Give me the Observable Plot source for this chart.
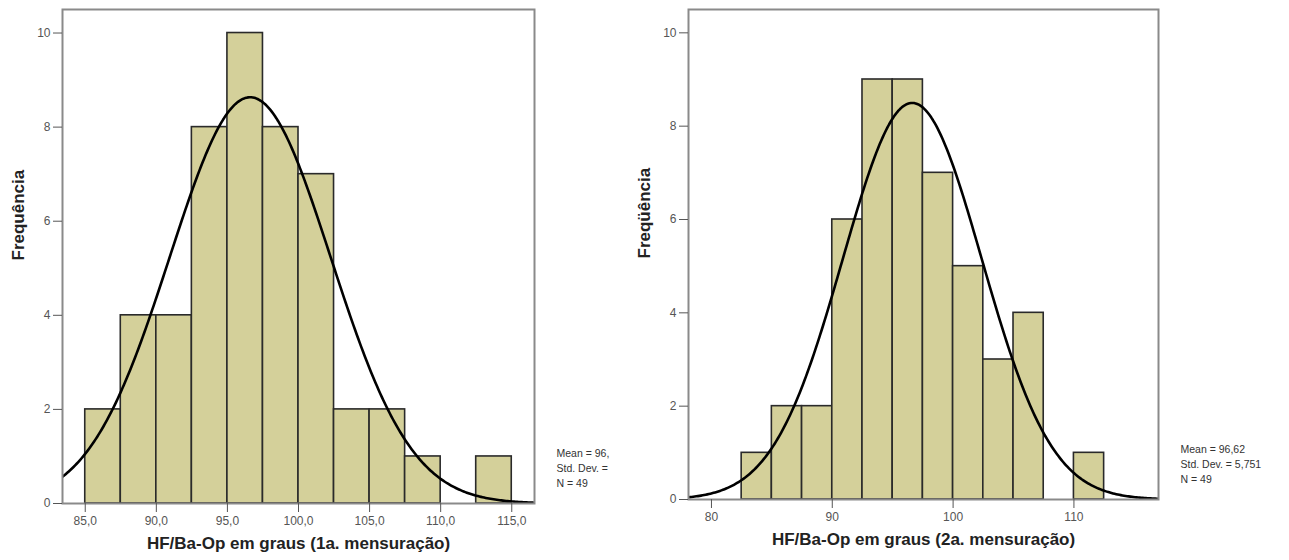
<!DOCTYPE html>
<html>
<head>
<meta charset="utf-8">
<script src="https://cdn.jsdelivr.net/npm/d3@7"></script>
<script src="https://cdn.jsdelivr.net/npm/@observablehq/plot@0.6"></script>
<style>
  html, body { margin: 0; padding: 0; background: #fff; }
  #wrap { display: flex; width: 1289px; height: 560px; }
  svg { font-family: Arial, "Liberation Sans", sans-serif; }
</style>
</head>
<body>
<div id="wrap"></div>
<script>
// ---- Data ----
const binWidth = 2.5;
// Chart 1 (1a. mensuração)
const bins1Start = [85, 87.5, 90, 92.5, 95, 97.5, 100, 102.5, 105, 107.5, 110, 112.5];
const counts1    = [2, 4, 4, 8, 10, 8, 7, 2, 2, 1, 0, 1];
const ticks1     = [85, 90, 95, 100, 105, 110, 115];
const tickLabels1 = ["85,0", "90,0", "95,0", "100,0", "105,0", "110,0", "115,0"];
const mean1 = 96.6, sd1 = 5.66, n1 = 49;
const stats1 = ["Mean = 96,", "Std. Dev. =", "N = 49"];

// Chart 2 (2a. mensuração)
const bins2Start = [82.5, 85, 87.5, 90, 92.5, 95, 97.5, 100, 102.5, 105, 107.5, 110];
const counts2    = [1, 2, 2, 6, 9, 9, 7, 5, 3, 4, 0, 1];
const ticks2     = [80, 90, 100, 110];
const tickLabels2 = ["80", "90", "100", "110"];
const mean2 = 96.62, sd2 = 5.751, n2 = 49;
const stats2 = ["Mean = 96,62", "Std. Dev. = 5,751", "N = 49"];

const yTicks = [0, 2, 4, 6, 8, 10];

function normalCurve(mean, sd, n, domain) {
  const [a, b] = domain;
  const pts = [];
  const steps = 300;
  for (let i = 0; i <= steps; i++) {
    const x = a + (b - a) * i / steps;
    const y = n * binWidth / (sd * Math.sqrt(2 * Math.PI)) * Math.exp(-0.5 * ((x - mean) / sd) ** 2);
    pts.push({x, y});
  }
  return pts;
}

function makeChart({starts, counts, ticks, tickLabels, mean, sd, n, stats, xDomain, width, marginLeft, marginRight, marginBottom, xLabel, yLabel}) {
  const bars = starts.map((s, i) => ({x1: s, x2: s + binWidth, c: counts[i]})).filter(d => d.c > 0);
  const curve = normalCurve(mean, sd, n, xDomain);
  const fmt = new Map(ticks.map((t, i) => [t, tickLabels[i]]));
  return Plot.plot({
    width, height: 560,
    marginLeft, marginRight, marginTop: 9, marginBottom,
    style: {fontSize: "12px", color: "#555", background: "#fff"},
    x: {domain: xDomain, label: null},
    y: {domain: [0, 10.5], label: null},
    marks: [
      Plot.rectY(bars, {x1: "x1", x2: "x2", y: "c", fill: "#d4d09a", stroke: "#2a2a2a", strokeWidth: 1.6}),
      Plot.line(curve, {x: "x", y: "y", stroke: "#000", strokeWidth: 2.6, clip: true}),
      Plot.frame({stroke: "#8a8a8a", strokeWidth: 2}),
      Plot.axisX({ticks, tickFormat: d => fmt.get(d), tickSize: 9, tickPadding: 4, stroke: "#555", fill: "#555", label: null, fontSize: 12}),
      Plot.axisY({ticks: yTicks, tickSize: 9, tickPadding: 3, stroke: "#555", fill: "#555", label: null, fontSize: 12}),
      Plot.text([xLabel], {frameAnchor: "bottom", dy: 45, fontSize: 17, fontWeight: "bold", fill: "#222"}),
      Plot.text([yLabel], {frameAnchor: "left", dx: -44, dy: 4, rotate: -90, fontSize: 17, fontWeight: "bold", fill: "#222"}),
      Plot.text([stats.join("\n")], {frameAnchor: "bottom-right", textAnchor: "start", lineAnchor: "bottom", dx: 22, dy: -17, fontSize: 10.5, fill: "#333", lineHeight: 1.4})
    ]
  });
}

const wrap = document.getElementById("wrap");
wrap.appendChild(makeChart({
  starts: bins1Start, counts: counts1, ticks: ticks1, tickLabels: tickLabels1,
  mean: mean1, sd: sd1, n: n1, stats: stats1,
  xDomain: [83.4, 116.6], width: 625, marginLeft: 62, marginRight: 91, marginBottom: 57,
  xLabel: "HF/Ba-Op em graus (1a. mensuração)", yLabel: "Frequência"
}));
wrap.appendChild(makeChart({
  starts: bins2Start, counts: counts2, ticks: ticks2, tickLabels: tickLabels2,
  mean: mean2, sd: sd2, n: n2, stats: stats2,
  xDomain: [78.1, 117.0], width: 664, marginLeft: 63, marginRight: 131, marginBottom: 61,
  xLabel: "HF/Ba-Op em graus (2a. mensuração)", yLabel: "Freqüência"
}));
</script>
</body>
</html>
